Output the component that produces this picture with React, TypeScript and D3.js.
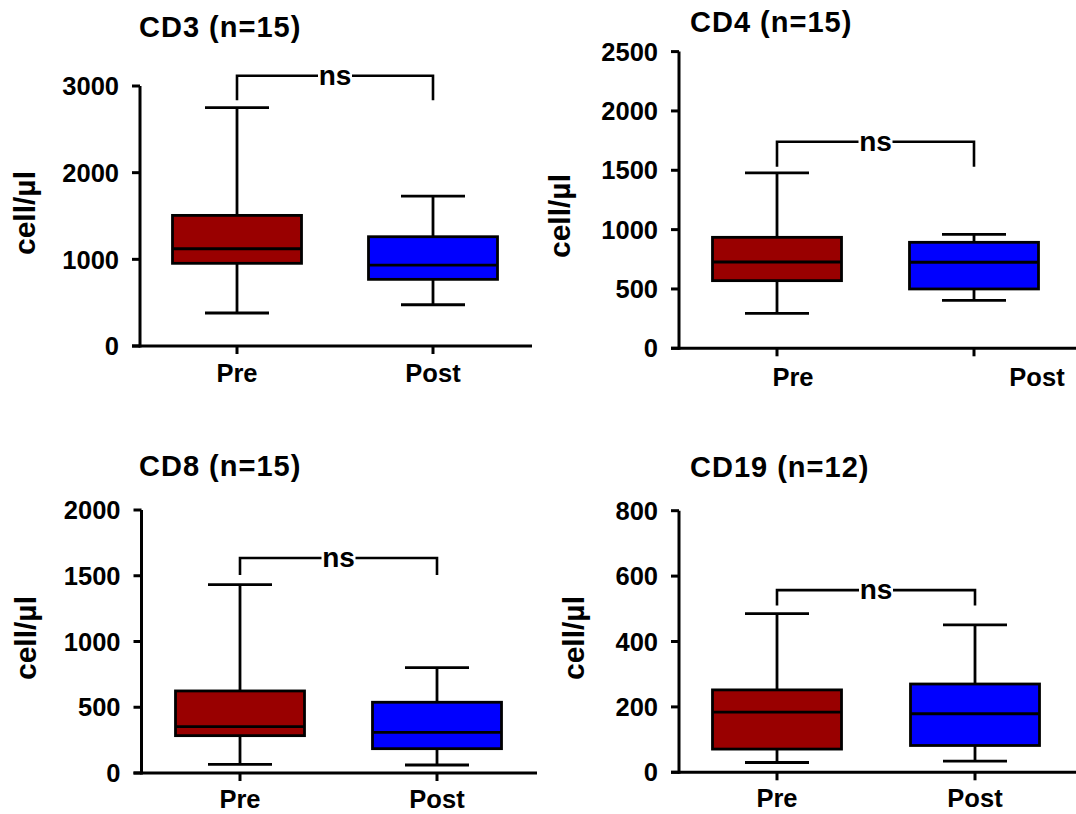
import React from 'react';
import * as d3 from 'd3';

// ---------- data ----------
const groups = ['Pre', 'Post'];
const panelTitles = ['CD3 (n=15)', 'CD4 (n=15)', 'CD8 (n=15)', 'CD19 (n=12)'];
const yMaxes = [3000, 2500, 2000, 800];
const yTickSteps = [1000, 500, 500, 200];
// five-number summaries: [min, q1, median, q3, max]
const cd3Pre = [381, 954, 1122, 1507, 2750];
const cd3Post = [476, 769, 934, 1261, 1730];
const cd4Pre = [295, 570, 727, 935, 1478];
const cd4Post = [404, 500, 725, 893, 960];
const cd8Pre = [66, 284, 352, 624, 1432];
const cd8Post = [61, 185, 309, 538, 801];
const cd19Pre = [30, 71, 184, 252, 485];
const cd19Post = [34, 82, 179, 270, 451];
const bracketTops = [3118, 1741, 1635, 557];
const bracketLegs = [2837, 1530, 1506, 510];
const sigLabels = ['ns', 'ns', 'ns', 'ns'];
const yAxisLabel = 'cell/µl';

const panelData = [
  [cd3Pre, cd3Post],
  [cd4Pre, cd4Post],
  [cd8Pre, cd8Post],
  [cd19Pre, cd19Post],
];

// ---------- layout ----------
const layouts = [
  { axisX: 140, top: 86, bottom: 346, xEnd: 532, preX: 237, postX: 433, titleX: 139, titleY: 37, labX: 35, labY: 213, xLabDy: 36, xLabOff: [0, 0] },
  { axisX: 679, top: 51.6, bottom: 348.3, xEnd: 1080, preX: 777, postX: 974, titleX: 690, titleY: 32, labX: 570, labY: 216, xLabDy: 38, xLabOff: [16, 63] },
  { axisX: 141.5, top: 510, bottom: 773, xEnd: 537, preX: 240, postX: 437, titleX: 139, titleY: 476, labX: 36, labY: 638, xLabDy: 35, xLabOff: [0, 0] },
  { axisX: 679, top: 510.7, bottom: 772.3, xEnd: 1080, preX: 777, postX: 975, titleX: 690, titleY: 477, labX: 584, labY: 638, xLabDy: 35, xLabOff: [0, 0] },
];

const colors = ['#990000', '#0000FF'];
const FONT = '"Liberation Sans", Arial, Helvetica, sans-serif';
const BOX_W = 129;
const CAP_W = 64;
const SW = 2.8;

function Panel({ i }: { i: number }) {
  const L = layouts[i];
  const y = d3.scaleLinear().domain([0, yMaxes[i]]).range([L.bottom, L.top]);
  const x = d3.scalePoint<string>().domain(groups).range([L.preX, L.postX]);
  const ticks = d3.range(0, yMaxes[i] + 1, yTickSteps[i]);
  const px = x('Pre')!;
  const qx = x('Post')!;
  const mid = (px + qx) / 2;
  const bt = y(bracketTops[i]);
  const bl = y(bracketLegs[i]);
  return (
    <g>
      <text x={L.titleX} y={L.titleY} fontFamily={FONT} fontWeight="bold" fontSize={29} letterSpacing={1}>
        {panelTitles[i]}
      </text>
      <text
        transform={`translate(${L.labX},${L.labY}) rotate(-90)`}
        textAnchor="middle"
        fontFamily={FONT}
        fontWeight="bold"
        fontSize={30}
      >
        {yAxisLabel}
      </text>
      {/* y axis */}
      <line x1={L.axisX} x2={L.axisX} y1={y(yMaxes[i])} y2={L.bottom + 1.5} stroke="#000" strokeWidth={3} />
      {ticks.map((t) => (
        <g key={t}>
          <line x1={L.axisX - 8} x2={L.axisX} y1={y(t)} y2={y(t)} stroke="#000" strokeWidth={3} />
          <text x={L.axisX - 21} y={y(t)} dy="0.36em" textAnchor="end" fontFamily={FONT} fontWeight="bold" fontSize={25.5}>
            {t}
          </text>
        </g>
      ))}
      {/* x axis */}
      <line x1={L.axisX - 8} x2={L.xEnd} y1={L.bottom} y2={L.bottom} stroke="#000" strokeWidth={3} />
      {groups.map((g, gi) => (
        <g key={g}>
          <line x1={x(g)!} x2={x(g)!} y1={L.bottom} y2={L.bottom + 8} stroke="#000" strokeWidth={3} />
          <text
            x={x(g)! + L.xLabOff[gi]}
            y={L.bottom + L.xLabDy}
            textAnchor="middle"
            fontFamily={FONT}
            fontWeight="bold"
            fontSize={25.5}
          >
            {g}
          </text>
        </g>
      ))}
      {/* boxes */}
      {groups.map((g, gi) => {
        const [mn, q1, md, q3, mx] = panelData[i][gi];
        const cx = x(g)!;
        return (
          <g key={g}>
            <line x1={cx} x2={cx} y1={y(q3)} y2={y(mx)} stroke="#000" strokeWidth={SW} />
            <line x1={cx} x2={cx} y1={y(q1)} y2={y(mn)} stroke="#000" strokeWidth={SW} />
            <line x1={cx - CAP_W / 2} x2={cx + CAP_W / 2} y1={y(mx)} y2={y(mx)} stroke="#000" strokeWidth={SW} />
            <line x1={cx - CAP_W / 2} x2={cx + CAP_W / 2} y1={y(mn)} y2={y(mn)} stroke="#000" strokeWidth={SW} />
            <rect
              x={cx - BOX_W / 2}
              y={y(q3)}
              width={BOX_W}
              height={y(q1) - y(q3)}
              fill={colors[gi]}
              stroke="#000"
              strokeWidth={SW}
            />
            <line x1={cx - BOX_W / 2} x2={cx + BOX_W / 2} y1={y(md)} y2={y(md)} stroke="#000" strokeWidth={SW} />
          </g>
        );
      })}
      {/* significance bracket */}
      <path
        d={`M${px},${bl}V${bt}H${mid - 17}M${mid + 17},${bt}H${qx}V${bl}`}
        fill="none"
        stroke="#000"
        strokeWidth={2.6}
      />
      <text x={mid} y={bt + 9} textAnchor="middle" fontFamily={FONT} fontWeight="bold" fontSize={28}>
        {sigLabels[i]}
      </text>
    </g>
  );
}

export default function App() {
  return (
    <svg
      width={1076}
      height={814}
      style={{ position: 'absolute', left: 0, top: 0, background: '#fff' }}
    >
      <rect width={1076} height={814} fill="#fff" />
      {[0, 1, 2, 3].map((i) => (
        <Panel key={i} i={i} />
      ))}
    </svg>
  );
}
